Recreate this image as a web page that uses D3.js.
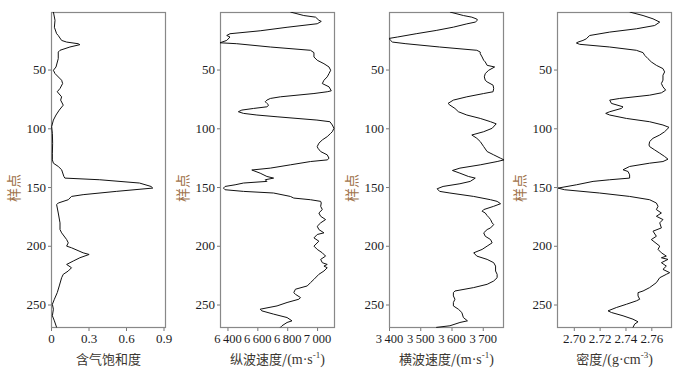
<!DOCTYPE html>
<html>
<head>
<meta charset="utf-8">
<script src="https://cdn.jsdelivr.net/npm/d3@7"></script>
<style>
  body { margin: 0; background: #fff; }
  .tick text { font-family: "Liberation Serif", serif; font-size: 13px; fill: #1c1c24; }
</style>
</head>
<body>
<svg id="chart" width="687" height="370"></svg>
<script>
// sample index range (y axis)
const sampleDomain = [1, 270];
const sampleTicks = [50, 100, 150, 200, 250];

// gas saturation: [sample, value]
const gasSat = [
  [1, 0.019], [8, 0.032], [14, 0.027], [19.5, 0.045], [21, 0.058], [22.3, 0.066], [25.2, 0.085],
  [26.6, 0.125], [28, 0.217], [28.8, 0.231], [30.8, 0.151], [33.6, 0.072], [35.1, 0.058], [40.7, 0.058],
  [47.8, 0.040], [50.6, 0.019], [53.4, 0.032], [59.1, 0.085], [61.9, 0.093], [66.1, 0.072], [68.9, 0.050],
  [73.2, 0.085], [76, 0.077], [80.3, 0.098], [84.5, 0.066], [88.7, 0.040], [93, 0.019], [98.6, 0.005],
  [104.3, 0.011], [112.7, 0.013], [121.2, 0.011], [126.9, 0.011], [129.7, 0.019], [132.5, 0.058],
  [135.3, 0.085], [141, 0.103], [142.4, 0.111], [143.8, 0.390], [146.6, 0.708], [149.5, 0.800],
  [150.9, 0.814], [153.7, 0.522], [156.5, 0.257], [158, 0.164], [160.8, 0.138], [163.6, 0.058],
  [165, 0.045], [172.1, 0.058], [180.5, 0.072], [186.2, 0.072], [189, 0.085], [194.7, 0.125],
  [197.5, 0.138], [200.3, 0.125], [201.7, 0.164], [206, 0.257], [207.4, 0.305], [210.2, 0.231],
  [213, 0.178], [215.9, 0.125], [218.7, 0.164], [221.5, 0.138], [224.3, 0.098], [227.2, 0.085],
  [234.2, 0.066], [239.9, 0.050], [245.5, 0.027], [249.8, 0.011], [254, 0.019], [259.6, 0.011],
  [263.9, 0.027], [269.5, 0.045]
];

// P-wave velocity
const vp = [
  [1, 6821], [4, 6911], [5.4, 6990], [8, 7012], [9, 7028], [11, 7001], [14, 6799], [17, 6619],
  [19.5, 6417], [21, 6395], [22.3, 6417], [25.2, 6395], [27.2, 6350], [28, 6462], [30.8, 6687],
  [33.6, 6956], [35.6, 6979], [39.3, 6979], [42.1, 7001], [45, 7046], [47.8, 7080], [50.6, 7091],
  [53.4, 7080], [56.2, 7068], [59.1, 7046], [61.9, 7035], [64.7, 7080], [68.1, 7095], [68.9, 7068],
  [70.4, 6979], [73.2, 6754], [74.6, 6687], [76, 6664], [77.4, 6653], [78.8, 6664], [80.3, 6676],
  [81.7, 6664], [83.1, 6575], [84.5, 6496], [85.9, 6473], [87.3, 6507], [88.7, 6597], [90.2, 6732],
  [93, 6999], [94.4, 7086], [97.2, 7102], [100, 7113], [102.9, 7102], [104.3, 7091], [107.1, 7068],
  [109.9, 7035], [112.7, 7012], [115.6, 7001], [117, 7006], [119.8, 7024], [122.6, 7068], [125.5, 7080],
  [126.9, 7068], [128.3, 6956], [131.1, 6821], [133.9, 6687], [135.5, 6563], [138.2, 6619],
  [141, 6664], [142.4, 6709], [143.8, 6653], [145.2, 6664], [146.6, 6507], [148.1, 6451],
  [149.5, 6384], [150.9, 6373], [152.3, 6384], [153.7, 6507], [155.1, 6709], [158, 6821],
  [159.4, 6844], [160.8, 6956], [162.2, 7024], [163.6, 7028], [166.4, 7024], [169.2, 7035],
  [172.1, 7012], [174.9, 7024], [177.7, 7057], [180.5, 7024], [183.4, 7001], [186.2, 7012],
  [189, 7046], [190.4, 7001], [193.3, 6979], [196.1, 7012], [200.3, 6979], [203.1, 7001],
  [206, 7035], [208.8, 7057], [211.6, 7024], [214.4, 7035], [215.9, 7068], [217.3, 7046],
  [218.7, 7068], [221.5, 7046], [224.3, 7012], [228.6, 6979], [231.4, 6956], [234.2, 6934],
  [237, 6855], [239.9, 6844], [241.3, 6855], [244.1, 6889], [245.5, 6878], [248.3, 6799],
  [251.2, 6732], [254, 6619], [255.4, 6630], [258.2, 6709], [261.1, 6799], [263.9, 6832],
  [265.3, 6799], [268.1, 6765], [269.5, 6754]
];

// S-wave velocity
const vs = [
  [1, 3595], [4, 3638], [5.4, 3665], [7, 3681], [8, 3683], [9.6, 3676], [11.1, 3649], [13.9, 3606],
  [16.7, 3551], [19.5, 3487], [22.3, 3427], [23.5, 3400], [25.2, 3405], [26.6, 3411], [28, 3454],
  [30.8, 3562], [33.6, 3681], [35.1, 3692], [36.5, 3692], [39.3, 3698], [42.1, 3703], [43.5, 3708],
  [46.4, 3714], [47.8, 3738], [50.6, 3719], [53.4, 3708], [56.2, 3705], [59.1, 3708], [60.5, 3714],
  [63.3, 3733], [66.1, 3735], [68.9, 3733], [70.4, 3703], [73.2, 3649], [76, 3606], [78.8, 3589],
  [80.3, 3595], [83.1, 3611], [85.9, 3622], [88.7, 3649], [91.6, 3692], [94.4, 3725], [96.2, 3743],
  [100, 3730], [102.9, 3703], [105.7, 3665], [108.5, 3681], [111.3, 3692], [115.6, 3703],
  [119.8, 3714], [122.6, 3735], [125.5, 3757], [126.9, 3768], [128.3, 3746], [131.1, 3692],
  [133.9, 3627], [135.9, 3603], [138.2, 3627], [141, 3654], [142.4, 3676], [145.2, 3660],
  [147.2, 3627], [149.5, 3573], [151.5, 3554], [153.7, 3562], [155.1, 3595], [158, 3671],
  [160.8, 3725], [162.2, 3746], [164.2, 3757], [166.4, 3735], [169.2, 3703], [170.6, 3698],
  [172.1, 3708], [174.3, 3714], [175.7, 3719], [177.7, 3725], [180.5, 3730], [182, 3735],
  [184.8, 3725], [186.2, 3714], [189, 3703], [191.9, 3708], [194.7, 3725], [197.5, 3730],
  [200.3, 3714], [203.1, 3698], [206, 3671], [208.8, 3681], [211.6, 3714], [214.4, 3735],
  [217.3, 3741], [221.5, 3741], [224.3, 3746], [227.2, 3746], [230, 3735], [232.8, 3714],
  [235.6, 3671], [238.5, 3611], [239.9, 3606], [242.7, 3606], [245.5, 3611], [248.3, 3606],
  [251.2, 3606], [254, 3622], [256.8, 3633], [261.1, 3638], [263.9, 3651], [265.3, 3627],
  [268.1, 3595], [269.5, 3551]
];

// density
const rho = [
  [1, 2.7432], [4, 2.7536], [6.8, 2.7613], [9.6, 2.7665], [12.5, 2.7626], [15.3, 2.7484],
  [18.1, 2.7278], [21, 2.7123], [22.3, 2.7110], [23.8, 2.7097], [25.2, 2.7071], [26.6, 2.7033],
  [27.4, 2.7020], [28.5, 2.7045], [30.8, 2.7278], [33.6, 2.7484], [35.6, 2.7536], [37.9, 2.7549],
  [40.7, 2.7574], [43.5, 2.7600], [46.4, 2.7639], [49.2, 2.7690], [52, 2.7703], [54.8, 2.7690],
  [59, 2.7690], [61.9, 2.7678], [64.7, 2.7690], [67.5, 2.7711], [69.8, 2.7678], [71.8, 2.7587],
  [74.6, 2.7355], [76, 2.7278], [78.8, 2.7291], [81.7, 2.7381], [83.1, 2.7368], [85.9, 2.7278],
  [87.3, 2.7247], [88.7, 2.7278], [91.6, 2.7407], [94.4, 2.7587], [97.2, 2.7690], [99.2, 2.7737],
  [102.9, 2.7703], [105.7, 2.7665], [108.5, 2.7613], [111.3, 2.7587], [114.2, 2.7582],
  [115.6, 2.7587], [118.4, 2.7626], [121.2, 2.7665], [124, 2.7703], [126.3, 2.7729],
  [128.3, 2.7690], [129.7, 2.7587], [132.5, 2.7432], [135.3, 2.7381], [136.8, 2.7420],
  [139.6, 2.7432], [142.4, 2.7432], [143.8, 2.7278], [145.2, 2.7149], [148.1, 2.7020],
  [150.9, 2.6878], [152.3, 2.6929], [155.1, 2.7200], [158, 2.7432], [160.8, 2.7587],
  [163.6, 2.7639], [166.4, 2.7652], [169.2, 2.7639], [172.1, 2.7678], [174.9, 2.7639],
  [177.7, 2.7690], [180.5, 2.7665], [184.8, 2.7678], [187.6, 2.7613], [191.9, 2.7639],
  [194.7, 2.7600], [200.3, 2.7665], [203.1, 2.7652], [206, 2.7678], [208.8, 2.7716],
  [210.2, 2.7678], [211.6, 2.7729], [214.4, 2.7678], [217.3, 2.7716], [220.1, 2.7690],
  [222.9, 2.7742], [224.3, 2.7716], [227.2, 2.7665], [231.4, 2.7639], [235.6, 2.7587],
  [238.5, 2.7536], [239.9, 2.7497], [242.7, 2.7497], [245.5, 2.7510], [246.9, 2.7484],
  [249.8, 2.7407], [252.6, 2.7329], [255.4, 2.7265], [256.8, 2.7291], [259.6, 2.7381],
  [262.5, 2.7458], [264.7, 2.7497], [266.7, 2.7471], [269.5, 2.7458]
];

// x axis settings per panel
const xDomains = [[0, 0.92], [6350, 7120], [3400, 3768], [2.687, 2.776]];
const xTicks = [[0, 0.3, 0.6, 0.9], [6400, 6600, 6800, 7000], [3400, 3500, 3600, 3700], [2.70, 2.72, 2.74, 2.76]];
const xTitles = [
  ["含气饱和度", ""],
  ["纵波速度/", "(m·s", "-1", ")"],
  ["横波速度/", "(m·s", "-1", ")"],
  ["密度/", "(g·cm", "-3", ")"]
];
const seriesList = [gasSat, vp, vs, rho];

const panelLefts = [51, 220, 389, 557];
const panelW = 115;
const panelTop = 12;
const panelBottom = 328;

const svg = d3.select('#chart');

const y = d3.scaleLinear()
    .domain(sampleDomain)
    .range([panelTop, panelBottom]);

// thousands separated by a thin space: "6 400"
function thousands(d) {
  return d3.format(",")(d).replace(",", "\u2009");
}
const xFormats = [d3.format(""), thousands, thousands, d3.format(".2f")];

seriesList.forEach(function(data, i) {
  const left = panelLefts[i];
  const x = d3.scaleLinear()
      .domain(xDomains[i])
      .range([left, left + panelW]);

  const g = svg.append('g');

  // clip
  svg.append('clipPath').attr('id', 'clip' + i)
    .append('rect')
      .attr('x', left).attr('y', panelTop)
      .attr('width', panelW).attr('height', panelBottom - panelTop);

  // y axis
  const ya = g.append('g')
      .attr('transform', 'translate(' + left + ',0)')
      .call(d3.axisLeft(y).tickValues(sampleTicks).tickSize(3).tickPadding(2));
  ya.select('.domain').remove();
  ya.selectAll('.tick line').attr('stroke', '#777');

  // x axis
  const xa = g.append('g')
      .attr('transform', 'translate(0,' + panelBottom + ')')
      .call(d3.axisBottom(x).tickValues(xTicks[i]).tickFormat(xFormats[i]).tickSize(3).tickPadding(3));
  xa.select('.domain').remove();
  xa.selectAll('.tick line').attr('stroke', '#777');
  if (i == 1 || i == 2) xa.selectAll('.tick text').style('font-size', '12.5px');

  // frame
  g.append('rect')
      .attr('x', left + 0.5).attr('y', panelTop + 0.5)
      .attr('width', panelW - 1).attr('height', panelBottom - panelTop - 1)
      .attr('fill', 'none')
      .attr('stroke', '#888')
      .attr('stroke-width', 1.2);

  // curve
  const line = d3.line()
      .x(function(d) { return x(d[1]); })
      .y(function(d) { return y(d[0]); });
  g.append('path')
      .datum(data)
      .attr('clip-path', 'url(#clip' + i + ')')
      .attr('d', line)
      .attr('fill', 'none')
      .attr('stroke', '#111')
      .attr('stroke-width', 1)
      .attr('stroke-linejoin', 'round');

  // y title
  g.append('text')
      .attr('transform', 'translate(' + (left - 32) + ',188)rotate(-90)')
      .attr('text-anchor', 'middle')
      .style('font-family', '"Noto Sans CJK SC", sans-serif')
      .style('font-size', '14px')
      .attr('fill', '#a0724a')
      .text('样点');

  // x title
  const t = xTitles[i];
  const title = g.append('text')
      .attr('x', left + panelW / 2)
      .attr('y', 364)
      .attr('text-anchor', 'middle')
      .attr('fill', '#3a3630')
      .style('font-size', '13px');
  title.append('tspan')
      .style('font-family', '"Noto Sans CJK SC", sans-serif')
      .text(t[0]);
  if (t.length > 2) {
    title.append('tspan')
        .style('font-family', '"Liberation Serif", serif')
        .style('font-size', '14px')
        .text(t[1]);
    title.append('tspan')
        .style('font-family', '"Liberation Serif", serif')
        .style('font-size', '9px')
        .attr('dy', -6)
        .text(t[2]);
    title.append('tspan')
        .style('font-family', '"Liberation Serif", serif')
        .style('font-size', '14px')
        .attr('dy', 6)
        .text(t[3]);
  }
});
</script>
</body>
</html>
